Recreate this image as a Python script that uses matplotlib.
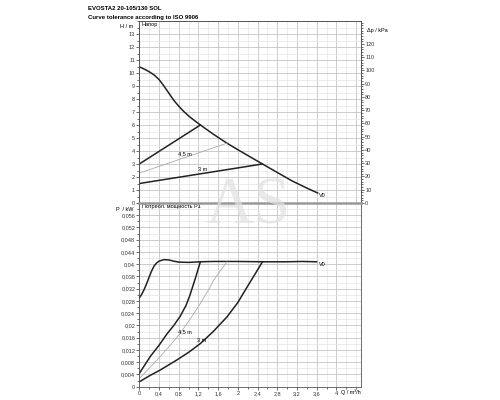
import matplotlib.pyplot as plt
from matplotlib.ticker import MultipleLocator, FuncFormatter

# Кривая напора (максимальная), Q в м3/ч, H в м
q_max = [0, 0.1, 0.2, 0.3, 0.4, 0.5, 0.6, 0.7, 0.8, 0.9, 1.0, 1.1, 1.24,
         1.5, 1.78, 2.0, 2.25, 2.5, 2.8, 3.1, 3.4, 3.62]
h_max = [10.48, 10.3, 10.1, 9.85, 9.5, 9.0, 8.45, 7.9, 7.45, 7.05, 6.7, 6.4, 6.0,
         5.3, 4.6, 4.1, 3.55, 3.0, 2.35, 1.7, 1.15, 0.77]

# Пропорциональные характеристики
q_6m = [0, 1.24]
h_6m = [3.0, 6.0]
q_45m = [0, 1.78]
h_45m = [2.3, 4.6]
q_3m = [0, 2.5]
h_3m = [1.5, 3.0]

# Потребляемая мощность P1, кВт
qp_max = [0, 0.05, 0.1, 0.15, 0.2, 0.25, 0.3, 0.35, 0.4, 0.5, 0.6, 0.7, 0.8,
          1.0, 1.24, 1.5, 2.0, 2.5, 3.0, 3.3, 3.6]
p_max = [0.029, 0.0302, 0.0318, 0.0337, 0.0358, 0.0378, 0.0394, 0.0404, 0.041,
         0.0415, 0.0414, 0.041, 0.0407, 0.0406, 0.0408, 0.0409, 0.0409, 0.0408,
         0.0408, 0.0409, 0.0408]
qp_6m = [0, 0.22, 0.4, 0.56, 0.7, 0.83, 0.95, 1.03, 1.13, 1.24]
p_6m = [0.0043, 0.0098, 0.0135, 0.0172, 0.0200, 0.0230, 0.0266, 0.0300, 0.0350, 0.0408]
qp_45m = [0, 0.2, 0.42, 0.6, 0.83, 1.05, 1.24, 1.4, 1.51, 1.65, 1.78]
p_45m = [0.0027, 0.0060, 0.0098, 0.0130, 0.0174, 0.0225, 0.0272, 0.0315, 0.0348, 0.0380, 0.0408]
qp_3m = [0, 0.2, 0.42, 0.76, 1.0, 1.24, 1.5, 1.78, 2.0, 2.19, 2.35, 2.5]
p_3m = [0.0016, 0.0035, 0.0054, 0.0087, 0.0112, 0.0141, 0.0180, 0.0228, 0.0275, 0.0326, 0.0368, 0.0408]

x_ticks = [0, 0.4, 0.8, 1.2, 1.6, 2, 2.4, 2.8, 3.2, 3.6, 4]

plt.rcParams['font.family'] = ['Liberation Sans', 'DejaVu Sans']
fs = 4

def comma(v, pos=None):
    s = ('%.3f' % v).rstrip('0').rstrip('.')
    return s.replace('.', ',')

fig = plt.figure(figsize=(5, 4), dpi=100)
ax1 = fig.add_axes([0.2786, 0.4925, 0.4434, 0.455])
ax2 = fig.add_axes([0.2786, 0.0333, 0.4434, 0.4592])

for ax in (ax1, ax2):
    ax.set_xlim(0, 4.5)
    ax.xaxis.set_major_locator(MultipleLocator(0.4))
    ax.xaxis.set_minor_locator(MultipleLocator(0.2))
    ax.grid(which='major', color='#c4c4c4', lw=0.6)
    ax.grid(which='minor', color='#e6e6e6', lw=0.5)
    ax.tick_params(which='both', labelsize=fs, length=2, width=0.5, colors='#333333', pad=1)
    ax.tick_params(which='minor', length=1.2)
    for s in ax.spines.values():
        s.set_linewidth(0.6)
        s.set_color('#555555')

# верхний график
ax1.set_ylim(0, 14)
ax1.set_yticks(range(0, 14))
ax1.yaxis.set_minor_locator(MultipleLocator(0.5))
ax1.tick_params(axis='x', which='both', bottom=False, labelbottom=False)
ax1.plot(q_max, h_max, color='#222222', lw=1.1)
ax1.plot(q_6m, h_6m, color='#222222', lw=1.1)
ax1.plot(q_3m, h_3m, color='#222222', lw=1.1)
ax1.plot(q_45m, h_45m, color='#aaaaaa', lw=0.6)
ax1.plot([0, 0], [h_3m[0], h_6m[0]], color='#222222', lw=1.2)
ax1.text(0.78, 3.62, '4,5 m', fontsize=fs, va='bottom')
ax1.text(1.2, 2.42, '3 m', fontsize=fs, va='bottom')
ax1.text(3.65, 0.45, 'V0', fontsize=fs)
ax1.text(0.05, 13.75, 'Напор', fontsize=fs, va='center')
ax1.text(-0.12, 13.6, 'H / m', fontsize=fs, ha='right', va='center')

ax1r = ax1.twinx()
ax1r.set_ylim(0, 14 * 9.81)
ax1r.set_yticks(range(0, 130, 10))
ax1r.yaxis.set_minor_locator(MultipleLocator(2))
ax1r.tick_params(which='both', labelsize=fs, length=2, width=0.5, colors='#333333', pad=1)
ax1r.tick_params(which='minor', length=1.2)
for s in ax1r.spines.values():
    s.set_linewidth(0.6)
    s.set_color('#555555')
ax1r.text(4.62, 13.3 * 9.81, 'Δp / kPa', fontsize=fs, ha='left', va='center')

# нижний график
ax2.set_ylim(0, 0.06)
ax2.set_yticks([i * 0.004 for i in range(15)])
ax2.yaxis.set_minor_locator(MultipleLocator(0.002))
ax2.yaxis.set_major_formatter(FuncFormatter(comma))
ax2.set_xticks(x_ticks)
ax2.xaxis.set_major_formatter(FuncFormatter(comma))
ax2.plot(qp_max, p_max, color='#222222', lw=1.1)
ax2.plot(qp_6m, p_6m, color='#222222', lw=1.1)
ax2.plot(qp_3m, p_3m, color='#222222', lw=1.1)
ax2.plot(qp_45m, p_45m, color='#aaaaaa', lw=0.6)
ax2.text(0.78, 0.0175, '4,5 m', fontsize=fs)
ax2.text(1.18, 0.0145, '3 m', fontsize=fs)
ax2.text(3.65, 0.0395, 'V0', fontsize=fs)
ax2.text(0.05, 0.0588, 'Потребл. мощность P1', fontsize=fs, va='center')
ax2.text(-0.12, 0.058, 'P  / kW', fontsize=fs, ha='right', va='center')
ax2.text(4.1, -0.0017, 'Q / m³/h', fontsize=fs, ha='left', va='center')

# разделительная линия между графиками
fig.add_artist(plt.Line2D([0.2786, 0.722], [0.4925, 0.4925], color='#999999', lw=1.8))

fig.text(0.176, 0.985, 'EVOSTA2 20-105/130 SOL', fontsize=4.3, weight='bold', va='top')
fig.text(0.176, 0.962, 'Curve tolerance according to ISO 9906', fontsize=4.3, weight='bold', va='top')

# водяной знак
fig.text(0.497, 0.4425, 'AS', fontsize=48, family='Liberation Serif', color='#e0e0e0',
         ha='center', va='baseline', alpha=0.7)

fig.savefig('out.png', dpi=100)
